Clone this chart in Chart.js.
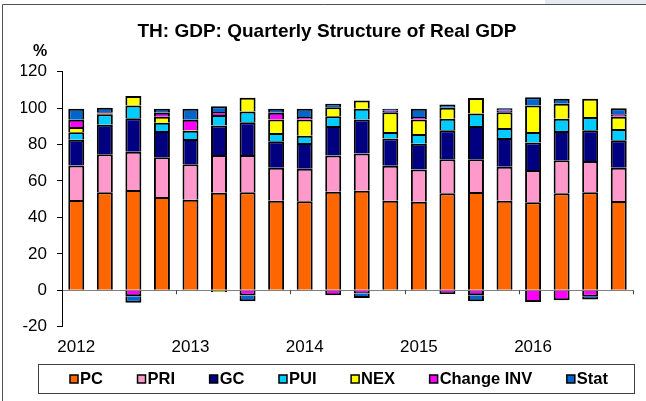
<!DOCTYPE html>
<html>
<head>
<meta charset="utf-8">
<script src="https://cdn.jsdelivr.net/npm/chart.js@4.4.1/dist/chart.umd.min.js"></script>
<style>
  html, body { margin: 0; padding: 0; background: #fff; }
  #wrap { width: 646px; height: 401px; }
</style>
</head>
<body>
<div id="wrap"><canvas id="c" width="646" height="401"></canvas></div>
<script>
// ---- data ----
const categories = [
  '2012Q1','2012Q2','2012Q3','2012Q4',
  '2013Q1','2013Q2','2013Q3','2013Q4',
  '2014Q1','2014Q2','2014Q3','2014Q4',
  '2015Q1','2015Q2','2015Q3','2015Q4',
  '2016Q1','2016Q2','2016Q3','2016Q4'
];
const yearLabels = ['2012', '2013', '2014', '2015', '2016'];
const seriesNames = ['PC', 'PRI', 'GC', 'PUI', 'NEX', 'Change INV', 'Stat'];
const pc   = [49.6, 53.8, 55.0, 51.2, 49.7, 53.6, 53.8, 49.2, 48.9, 54.1, 54.6, 49.2, 48.6, 53.2, 53.9, 49.2, 48.3, 53.2, 53.8, 49.0];
const pri  = [18.9, 20.9, 21.0, 21.9, 19.5, 20.6, 20.4, 18.0, 17.8, 19.9, 20.5, 19.1, 17.7, 18.8, 18.1, 18.6, 17.8, 18.2, 17.2, 18.2];
const gc   = [14.2, 16.2, 18.5, 14.3, 13.9, 16.2, 18.1, 14.6, 14.2, 16.2, 18.6, 15.0, 14.2, 15.8, 18.2, 15.8, 15.0, 16.0, 16.8, 15.1];
const pui  = [4.0, 5.7, 7.0, 4.6, 4.5, 5.8, 5.9, 4.5, 4.0, 5.3, 6.0, 3.6, 5.3, 6.4, 6.9, 5.5, 5.8, 6.8, 7.3, 6.2];
const nex  = [2.9, 0.4, 5.1, 3.3, 0.4, -1.0, 7.5, 7.5, 8.9, 5.0, 4.5, 10.9, 8.0, 6.0, 8.4, 8.7, 14.6, 8.2, 10.0, 6.8];
const cinv = [4.0, 0.7, -3.3, 2.2, 5.6, 1.7, -2.9, 3.7, 1.3, -2.7, -1.8, 0.8, 1.3, -2.0, -2.7, 0.8, -6.4, -5.5, -3.5, 1.4];
const stat = [6.1, 2.5, -3.6, 2.2, 6.1, 3.2, -3.1, 2.2, 4.6, 1.9, -2.4, 1.1, 4.6, 1.8, -3.3, 1.4, 4.5, 2.7, -1.6, 3.3];
const colors = ['#FF6600', '#FF99CC', '#000080', '#00CCFF', '#FFFF00', '#FF00FF', '#0066CC'];

const FONT = '"Liberation Sans", Arial, Helvetica, sans-serif';
const values = [pc, pri, gc, pui, nex, cinv, stat];

const datasets = seriesNames.map((name, i) => ({
  label: name,
  data: values[i],
  backgroundColor: colors[i],
  borderColor: '#000000',
  borderWidth: 2,
  categoryPercentage: 1.0,
  barPercentage: 0.56
}));

const decor = {
  id: 'decor',
  beforeDraw(chart) {
    const ctx = chart.ctx;
    ctx.save();
    ctx.fillStyle = '#ffffff';
    ctx.fillRect(0, 0, chart.width, chart.height);
    // light band top-right
    ctx.fillStyle = '#E8E8F0';
    ctx.fillRect(545, 0, 101, 4);
    // outer frame
    ctx.strokeStyle = '#505050';
    ctx.lineWidth = 1;
    ctx.beginPath();
    ctx.moveTo(2.5, 401);
    ctx.lineTo(2.5, 4.5);
    ctx.lineTo(646, 4.5);
    ctx.stroke();
    ctx.restore();
  },
  afterDraw(chart) {
    const ctx = chart.ctx;
    const xs = chart.scales.x, ys = chart.scales.y;
    ctx.save();
    // "%" unit label
    ctx.fillStyle = '#000';
    ctx.font = 'bold 16px ' + FONT;
    ctx.textAlign = 'center';
    ctx.textBaseline = 'middle';
    ctx.fillText('%', 40, 52);
    // year boundary tick marks on zero line
    const y0 = ys.getPixelForValue(0);
    ctx.strokeStyle = '#404040';
    ctx.lineWidth = 1;
    for (let i = 4; i <= categories.length; i += 4) {
      const px = i < categories.length
        ? (xs.getPixelForValue(i - 1) + xs.getPixelForValue(i)) / 2
        : xs.right;
      ctx.beginPath();
      ctx.moveTo(Math.round(px) + 0.5, y0);
      ctx.lineTo(Math.round(px) + 0.5, y0 + 4);
      ctx.stroke();
    }
    // legend
    ctx.strokeStyle = '#404040';
    ctx.lineWidth = 1;
    ctx.strokeRect(38.5, 364.5, 596, 29);
    ctx.font = 'bold 16.5px ' + FONT;
    ctx.textAlign = 'left';
    const box = 8, gapBT = 2;
    const items = chart.data.datasets.map(d => ({
      label: d.label, color: d.backgroundColor, w: ctx.measureText(d.label).width
    }));
    const sum = items.reduce((a, it) => a + box + gapBT + it.w, 0);
    const G = (538 - sum) / (items.length - 1);
    let x = 70;
    items.forEach(it => {
      ctx.fillStyle = it.color;
      ctx.fillRect(x, 375, box, box);
      ctx.strokeStyle = '#000';
      ctx.lineWidth = 1.5;
      ctx.strokeRect(x, 375, box, box);
      ctx.fillStyle = '#000';
      ctx.fillText(it.label, x + box + gapBT, 379.5);
      x += box + gapBT + it.w + G;
    });
    ctx.restore();
  }
};

new Chart(document.getElementById('c'), {
  type: 'bar',
  data: { labels: categories, datasets },
  options: {
    responsive: false,
    animation: false,
    devicePixelRatio: 1,
    layout: { padding: { left: 21, right: 13, top: 0, bottom: 40 } },
    plugins: {
      legend: { display: false },
      tooltip: { enabled: false },
      title: {
        display: true,
        text: 'TH: GDP: Quarterly Structure of Real GDP',
        color: '#000',
        font: { family: FONT, size: 19, weight: 'bold' },
        padding: { top: 20, bottom: 28.9 }
      }
    },
    scales: {
      x: {
        stacked: true,
        grid: { display: false, drawTicks: false },
        border: { display: false },
        ticks: {
          autoSkip: false, maxRotation: 0, minRotation: 0,
          color: '#000', padding: 10,
          font: { family: FONT, size: 17 },
          callback: (v, i) => (i % 4 === 0 ? yearLabels[i / 4] : '')
        },
        afterFit: s => { s.height = 34.3; }
      },
      y: {
        stacked: true,
        min: -20, max: 120,
        ticks: {
          stepSize: 20, color: '#000', padding: 10,
          font: { family: FONT, size: 17 }
        },
        grid: {
          drawOnChartArea: true,
          color: c => (c.tick && c.tick.value === 0 ? '#808080' : 'rgba(0,0,0,0)'),
          tickColor: '#000',
          tickLength: 5,
          lineWidth: 1
        },
        border: { display: true, color: '#000', width: 1 },
        afterFit: s => { s.width = 41; }
      }
    }
  },
  plugins: [decor]
});
</script>
</body>
</html>
